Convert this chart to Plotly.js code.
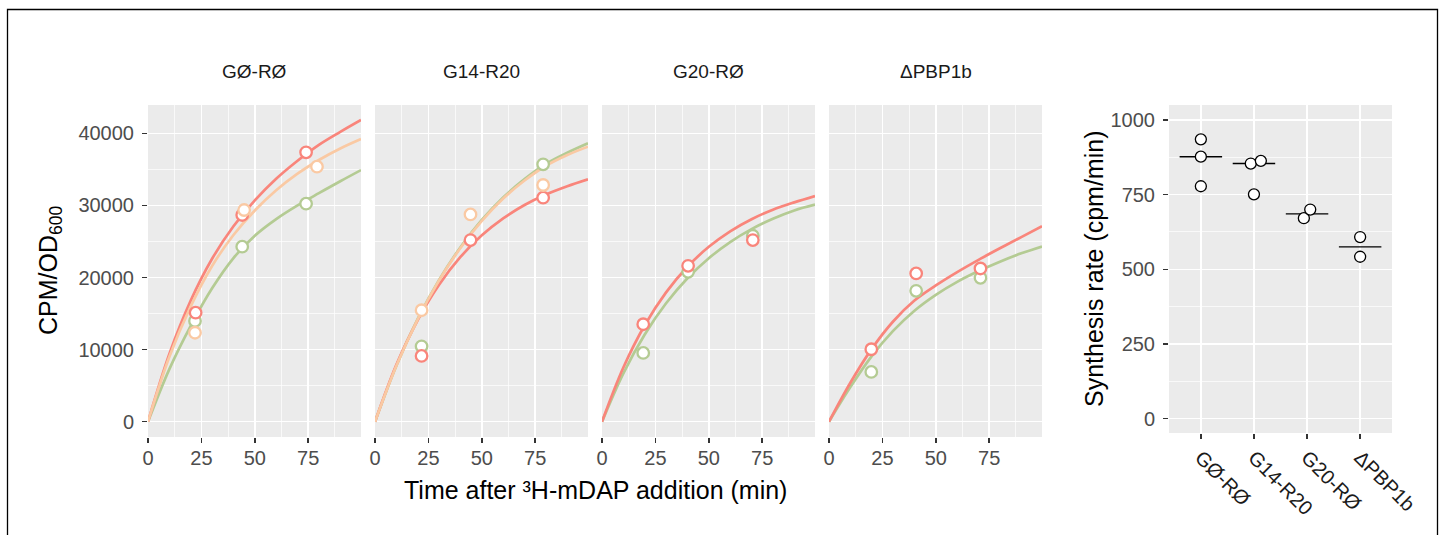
<!DOCTYPE html>
<html>
<head>
<meta charset="utf-8">
<script src="https://cdn.plot.ly/plotly-3.0.1.min.js"></script>
<style>
html,body{margin:0;padding:0;background:#fff;}
#chart{width:1445px;height:535px;}
</style>
</head>
<body>
<div id="chart"></div>
<script>
// ---------- data ----------
const strains = ["GØ-RØ", "G14-R20", "G20-RØ", "ΔPBP1b"];
const xTicks = [0, 25, 50, 75];
const yTicks = [0, 10000, 20000, 30000, 40000];
const rateTicks = [0, 250, 500, 750, 1000];

// measured points (time in min, CPM/OD600)
const p1RedT = [22.3, 44.1, 74.0],  p1RedY = [15120, 28670, 37360];
const p1PeachT = [22.0, 45.0, 79.1], p1PeachY = [12340, 29360, 35370];
const p1GreenT = [22.0, 44.1, 74.0], p1GreenY = [13970, 24270, 30240];

const p2RedT = [21.8, 44.7, 78.7],  p2RedY = [9120, 25190, 31070];
const p2PeachT = [21.8, 44.7, 78.7], p2PeachY = [15460, 28750, 32830];
const p2GreenT = [21.8, 78.7],       p2GreenY = [10460, 35700];

const p3RedT = [19.3, 40.3, 70.6],  p3RedY = [13520, 21620, 25190];
const p3GreenT = [19.3, 40.3, 70.6], p3GreenY = [9540, 20790, 25790];

const p4RedT = [19.8, 40.8, 70.9],  p4RedY = [10050, 20560, 21250];
const p4GreenT = [19.8, 40.8, 70.9], p4GreenY = [6900, 18150, 19960];

// fitted curves
const fitT = [0, 10, 20, 30, 40, 50, 60, 70, 80, 90, 99.7];
const fit1Red   = [0, 9400, 16800, 22600, 27100, 30700, 33700, 36200, 38400, 40200, 41850];
const fit1Peach = [0, 9000, 16000, 21600, 25900, 29300, 32100, 34400, 36300, 37900, 39210];
const fit1Green = [0, 7300, 13300, 18500, 22700, 25800, 28100, 30000, 31700, 33350, 34900];
const fit2Red   = [0, 7900, 14100, 19000, 22850, 25850, 28200, 30050, 31500, 32650, 33610];
const fit2Peach = [0, 7750, 14200, 19600, 24100, 27850, 30950, 33450, 35500, 37000, 38150];
const fit2Green = [0, 7770, 14250, 19670, 24200, 27980, 31100, 33650, 35750, 37300, 38610];
const fit3Red   = [0, 7520, 13380, 17940, 21490, 24260, 26410, 28090, 29400, 30420, 31300];
const fit3Green = [0, 6710, 12100, 16430, 19900, 22680, 24920, 26710, 28150, 29300, 30100];
const fit4Red   = [0, 5400, 10100, 13900, 16800, 18900, 20750, 22450, 24050, 25600, 27100];
const fit4Green = [0, 4800, 9100, 12600, 15400, 17600, 19400, 20900, 22200, 23350, 24300];

// synthesis rates (cpm/min)
const rateG0R0   = [935, 877, 778];
const rateG14R20 = [854, 863, 751];
const rateG20R0  = [671, 700];
const ratePBP1b  = [608, 542];
const rateJitter = [[0, 0, 0], [-0.06, 0.13, 0], [-0.06, 0.06], [0, 0]];

// ---------- style ----------
const RED = "#F9857B", PEACH = "#FAC9A3", GREEN = "#B4CB93";
const FONT = "Liberation Sans, Arial, Helvetica, sans-serif";
const W = 1445, H = 535;
const panelX = [[148, 361], [375, 588], [602, 815], [829, 1042]];
const rightX = [1169, 1392];
const leftYpx = [105, 437], rightYpx = [105, 433];

function px2x(p) { return p / W; }
function px2y(p) { return (H - p) / H; }

const traces = [];
function addPanel(i, series) {
  const ax = i === 0 ? "" : String(i + 1);
  series.forEach(s => {
    traces.push({x: fitT, y: s.fit, type: "scatter", mode: "lines",
      line: {color: s.color, width: 2.7, shape: "spline", smoothing: 1},
      xaxis: "x" + ax, yaxis: "y" + ax, hoverinfo: "skip", showlegend: false});
  });
  series.forEach(s => {
    traces.push({x: s.t, y: s.y, type: "scatter", mode: "markers",
      marker: {symbol: "circle", size: 11.5, color: "white", line: {color: s.color, width: 2.3}},
      xaxis: "x" + ax, yaxis: "y" + ax, showlegend: false});
  });
}
addPanel(0, [
  {t: p1GreenT, y: p1GreenY, fit: fit1Green, color: GREEN},
  {t: p1RedT, y: p1RedY, fit: fit1Red, color: RED},
  {t: p1PeachT, y: p1PeachY, fit: fit1Peach, color: PEACH}]);
addPanel(1, [
  {t: p2GreenT, y: p2GreenY, fit: fit2Green, color: GREEN},
  {t: p2RedT, y: p2RedY, fit: fit2Red, color: RED},
  {t: p2PeachT, y: p2PeachY, fit: fit2Peach, color: PEACH}]);
addPanel(2, [
  {t: p3GreenT, y: p3GreenY, fit: fit3Green, color: GREEN},
  {t: p3RedT, y: p3RedY, fit: fit3Red, color: RED}]);
addPanel(3, [
  {t: p4GreenT, y: p4GreenY, fit: fit4Green, color: GREEN},
  {t: p4RedT, y: p4RedY, fit: fit4Red, color: RED}]);

// right panel
const rates = [rateG0R0, rateG14R20, rateG20R0, ratePBP1b];
function median(a) {
  const s = a.slice().sort((p, q) => p - q), n = s.length;
  return n % 2 ? s[(n - 1) / 2] : (s[n / 2 - 1] + s[n / 2]) / 2;
}
rates.forEach((r, i) => {
  const m = median(r);
  traces.push({x: [i - 0.4, i + 0.4], y: [m, m], type: "scatter", mode: "lines",
    line: {color: "black", width: 1.4}, xaxis: "x5", yaxis: "y5", showlegend: false, hoverinfo: "skip"});
});
rates.forEach((r, i) => {
  traces.push({x: r.map((v, j) => i + rateJitter[i][j]), y: r, type: "scatter", mode: "markers",
    marker: {symbol: "circle", size: 11, color: "white", line: {color: "black", width: 1.3}},
    xaxis: "x5", yaxis: "y5", showlegend: false});
});

// ---------- layout ----------
const tickFont = {family: FONT, size: 20, color: "#4D4D4D"};
const gridBase = {showgrid: true, gridcolor: "white", gridwidth: 1.5, zeroline: false, showline: false};
const layout = {
  width: W, height: H, margin: {l: 0, r: 0, t: 0, b: 0},
  paper_bgcolor: "white", plot_bgcolor: "#EBEBEB",
  font: {family: FONT}, showlegend: false,
  annotations: [], shapes: []
};
const ldom = [px2y(leftYpx[1]), px2y(leftYpx[0])];
panelX.forEach((p, i) => {
  const k = i === 0 ? "" : String(i + 1);
  layout["xaxis" + k] = Object.assign({}, gridBase, {
    domain: [px2x(p[0]), px2x(p[1])], range: [0, 99.7], anchor: "y" + k,
    tickmode: "array", tickvals: xTicks, ticktext: xTicks.map(String),
    ticks: "outside", ticklen: 5, tickwidth: 1.5, tickcolor: "#333333", tickfont: tickFont,
    ticklabelstandoff: -2,
    minor: {tickmode: "array", tickvals: [12.5, 37.5, 62.5, 87.5], showgrid: true, gridcolor: "white", gridwidth: 0.7, ticks: ""}
  });
  layout["yaxis" + k] = Object.assign({}, gridBase, {
    domain: ldom, range: [-2120, 43925], anchor: "x" + k,
    tickmode: "array", tickvals: yTicks, ticktext: yTicks.map(String),
    ticks: i === 0 ? "outside" : "", ticklen: 5, tickwidth: 1.5, tickcolor: "#333333",
    showticklabels: i === 0, tickfont: tickFont, ticklabelstandoff: 4,
    minor: {tickmode: "array", tickvals: [5000, 15000, 25000, 35000], showgrid: true, gridcolor: "white", gridwidth: 0.7, ticks: ""}
  });
  layout.annotations.push({text: strains[i], xref: "paper", yref: "paper",
    x: px2x((p[0] + p[1]) / 2), y: px2y(72), xanchor: "center", yanchor: "middle",
    showarrow: false, font: {family: FONT, size: 19, color: "#1A1A1A"}});
});
layout.xaxis5 = Object.assign({}, gridBase, {
  domain: [px2x(rightX[0]), px2x(rightX[1])], range: [-0.6, 3.6], anchor: "y5",
  tickmode: "array", tickvals: [0, 1, 2, 3], ticktext: strains, tickangle: 45,
  ticks: "outside", ticklen: 5, tickwidth: 1.5, tickcolor: "#333333",
  tickfont: {family: FONT, size: 20, color: "#1A1A1A"}, ticklabelstandoff: -1
});
layout.yaxis5 = Object.assign({}, gridBase, {
  domain: [px2y(rightYpx[1]), px2y(rightYpx[0])], range: [-48, 1050], anchor: "x5",
  tickmode: "array", tickvals: rateTicks, ticktext: rateTicks.map(String),
  ticks: "outside", ticklen: 5, tickwidth: 1.5, tickcolor: "#333333", tickfont: tickFont,
  ticklabelstandoff: 4,
  minor: {tickmode: "array", tickvals: [125, 375, 625, 875], showgrid: true, gridcolor: "white", gridwidth: 0.7, ticks: ""}
});

layout.annotations.push(
  {text: "Time after ³H-mDAP addition (min)", xref: "paper", yref: "paper",
   x: px2x(595), y: px2y(490), xanchor: "center", yanchor: "middle", showarrow: false,
   font: {family: FONT, size: 25, color: "black"}},
  {text: "CPM/OD<sub>600</sub>", xref: "paper", yref: "paper",
   x: px2x(50), y: px2y(271), xanchor: "center", yanchor: "middle", textangle: -90, showarrow: false,
   font: {family: FONT, size: 25, color: "black"}},
  {text: "Synthesis rate (cpm/min)", xref: "paper", yref: "paper",
   x: px2x(1094), y: px2y(269), xanchor: "center", yanchor: "middle", textangle: -90, showarrow: false,
   font: {family: FONT, size: 25, color: "black"}}
);
layout.shapes.push({type: "rect", xref: "paper", yref: "paper",
  x0: px2x(7.5), x1: px2x(1437.5), y0: px2y(560), y1: px2y(9.5),
  line: {color: "black", width: 1.3}, fillcolor: "rgba(0,0,0,0)", layer: "above"});

Plotly.newPlot("chart", traces, layout, {staticPlot: true, displayModeBar: false});
</script>
</body>
</html>
